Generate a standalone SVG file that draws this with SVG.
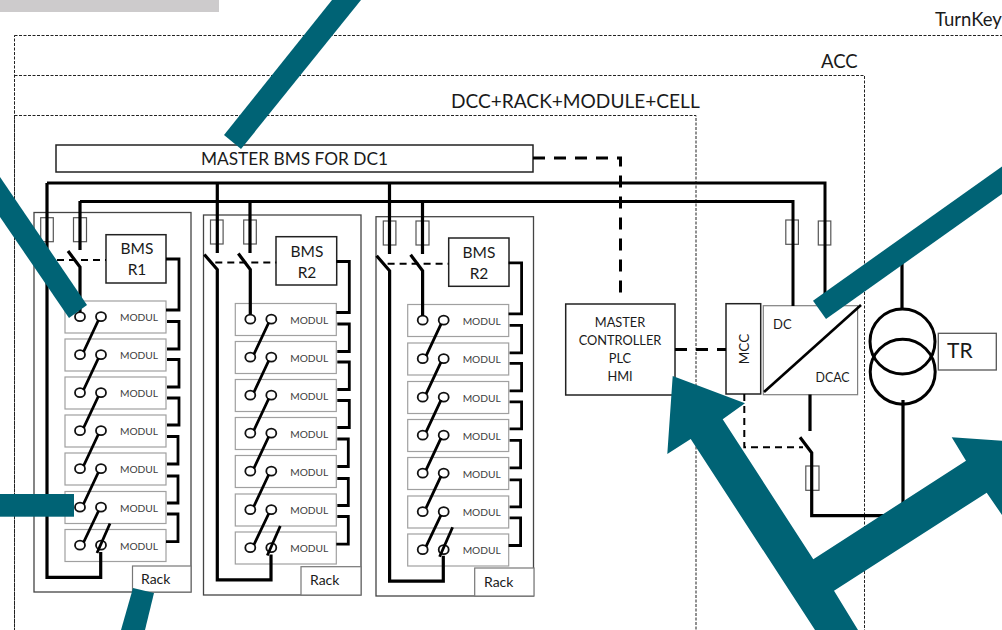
<svg xmlns="http://www.w3.org/2000/svg" width="1002" height="630" viewBox="0 0 1002 630">
<style>
text{font-family:Lato,"Open Sans","Liberation Sans",sans-serif;fill:#1a1a1a}
.frame{fill:none;stroke:#222;stroke-width:1;stroke-dasharray:3 1.500}
.box{fill:#fff;stroke:#222;stroke-width:1.500}
.rack{fill:#fff;stroke:#444;stroke-width:1.300}
.lab{fill:#fff;stroke:#777;stroke-width:1.200}
.mod{fill:#fff;stroke:#a0a0a0;stroke-width:1.200}
.pin{fill:#fff;stroke:#111;stroke-width:1.800}
.fuse{fill:none;stroke:#555;stroke-width:1.200}
.wire{fill:none;stroke:#000;stroke-width:3.200}
.bus{fill:none;stroke:#000;stroke-width:3}
.link{fill:none;stroke:#000;stroke-width:2.800}
.dash{fill:none;stroke:#000;stroke-width:2;stroke-dasharray:7 5}
.dash2{fill:none;stroke:#000;stroke-width:3;stroke-dasharray:12 9}
.m{font-size:10.200px;text-anchor:middle;fill:#404040}
.t16{font-size:15.500px;text-anchor:middle}
.teal{fill:#006375}
</style>
<defs>
<g id="mb"><rect class="mod" x="0" y="0" width="101" height="32"/><ellipse class="pin" cx="15" cy="15.700" rx="5" ry="4.500"/><ellipse class="pin" cx="36" cy="15.700" rx="5" ry="4.500"/></g>
<g id="chain">
<path class="link" d="M83.500 352L98.500 320M83.500 390L98.500 358M83.500 428L98.500 396M83.500 466L98.500 434M83.500 504L98.500 472M83.500 542.500L98.500 511M110 523.500L97 553"/>
<path class="wire" d="M100.700 552V577.300H47V267L34 252M68 251L80 267V312"/>
<path class="link" d="M166 259H179V310H166M167 321.500H179V349H167M167 359.500H179V387H167M167 398H179V425H167M167 436.500H178V464H167M167 476H178V503H167M167 514H178V541.700H166"/>
<path class="dash" d="M45 260H106"/>
</g>
</defs>

<rect width="219" height="12" fill="#cdcbcc"/>
<g id="frames">
<rect class="frame" x="14.500" y="35.500" width="1010" height="640"/>
<rect class="frame" x="14.500" y="75.500" width="850" height="600"/>
<rect class="frame" x="14.500" y="115.500" width="681.500" height="560"/>
<text x="935" y="26" font-size="18.500">TurnKey</text>
<text x="821" y="68" font-size="18.500">ACC</text>
<text x="451" y="108" font-size="19.100">DCC+RACK+MODULE+CELL</text>
</g>

<g id="master-bms"><rect class="box" x="56" y="145" width="477" height="27"/><text x="294.500" y="165" font-size="17.300" text-anchor="middle">MASTER BMS FOR DC1</text></g>

<g id="rack1">
<rect class="rack" x="34" y="212.500" width="157" height="379.500"/>
<rect class="lab" x="132.500" y="566" width="58.500" height="26"/><text x="141" y="584" font-size="14">Rack</text>
<rect class="fuse" x="40.700" y="217.700" width="12.600" height="24"/><rect class="fuse" x="73.500" y="217.700" width="13" height="24"/>
<g id="bms1"><rect class="box" x="106" y="234.700" width="60" height="48.300"/><text class="t16" x="137" y="254">BMS</text><text class="t16" x="137" y="275">R1</text></g>
<g id="r1m1" transform="translate(65,301)"><use href="#mb"/><text class="m" x="74" y="20">MODUL</text></g>
<g id="r1m2" transform="translate(65,339)"><use href="#mb"/><text class="m" x="74" y="20">MODUL</text></g>
<g id="r1m3" transform="translate(65,377)"><use href="#mb"/><text class="m" x="74" y="20">MODUL</text></g>
<g id="r1m4" transform="translate(65,415)"><use href="#mb"/><text class="m" x="74" y="20">MODUL</text></g>
<g id="r1m5" transform="translate(65,453)"><use href="#mb"/><text class="m" x="74" y="20">MODUL</text></g>
<g id="r1m6" transform="translate(65,491.500)"><use href="#mb"/><text class="m" x="74" y="20">MODUL</text></g>
<g id="r1m7" transform="translate(65,529.500)"><use href="#mb"/><text class="m" x="74" y="20">MODUL</text></g>
</g>

<g id="rack2">
<rect class="rack" x="203.500" y="215" width="157.500" height="380"/>
<rect class="lab" x="301" y="566.700" width="60" height="28.300"/><text x="310" y="585" font-size="14">Rack</text>
<rect class="fuse" x="210.500" y="220" width="12.600" height="24"/><rect class="fuse" x="243.700" y="220" width="12.600" height="24"/>
<g id="bms2"><rect class="box" x="276" y="236.700" width="60.700" height="48.300"/><text class="t16" x="307" y="256.500">BMS</text><text class="t16" x="307" y="278">R2</text></g>
<g id="r2m1" transform="translate(235.300,303.500)"><use href="#mb"/><text class="m" x="74" y="20">MODUL</text></g>
<g id="r2m2" transform="translate(235.300,341.500)"><use href="#mb"/><text class="m" x="74" y="20">MODUL</text></g>
<g id="r2m3" transform="translate(235.300,379.500)"><use href="#mb"/><text class="m" x="74" y="20">MODUL</text></g>
<g id="r2m4" transform="translate(235.300,417.500)"><use href="#mb"/><text class="m" x="74" y="20">MODUL</text></g>
<g id="r2m5" transform="translate(235.300,455.500)"><use href="#mb"/><text class="m" x="74" y="20">MODUL</text></g>
<g id="r2m6" transform="translate(235.300,494)"><use href="#mb"/><text class="m" x="74" y="20">MODUL</text></g>
<g id="r2m7" transform="translate(235.300,532)"><use href="#mb"/><text class="m" x="74" y="20">MODUL</text></g>
</g>

<g id="rack3">
<rect class="rack" x="376" y="216.700" width="157.500" height="379.300"/>
<rect class="lab" x="474.700" y="568" width="59.300" height="28"/><text x="484" y="587" font-size="14">Rack</text>
<rect class="fuse" x="383.300" y="221" width="12.600" height="24"/><rect class="fuse" x="416" y="221" width="13" height="24"/>
<g id="bms3"><rect class="box" x="448.700" y="238" width="60.300" height="48.300"/><text class="t16" x="479" y="257.500">BMS</text><text class="t16" x="479" y="279">R2</text></g>
<g id="r3m1" transform="translate(407.700,304.500)"><use href="#mb"/><text class="m" x="74" y="20">MODUL</text></g>
<g id="r3m2" transform="translate(407.700,343)"><use href="#mb"/><text class="m" x="74" y="20">MODUL</text></g>
<g id="r3m3" transform="translate(407.700,381.500)"><use href="#mb"/><text class="m" x="74" y="20">MODUL</text></g>
<g id="r3m4" transform="translate(407.700,419.500)"><use href="#mb"/><text class="m" x="74" y="20">MODUL</text></g>
<g id="r3m5" transform="translate(407.700,457.500)"><use href="#mb"/><text class="m" x="74" y="20">MODUL</text></g>
<g id="r3m6" transform="translate(407.700,496)"><use href="#mb"/><text class="m" x="74" y="20">MODUL</text></g>
<g id="r3m7" transform="translate(407.700,534)"><use href="#mb"/><text class="m" x="74" y="20">MODUL</text></g>
</g>

<g id="master-controller"><rect class="box" x="565.700" y="304" width="109.300" height="91"/>
<g font-size="12.800" text-anchor="middle"><text x="620" y="327">MASTER</text><text x="620" y="345">CONTROLLER</text><text x="620" y="363">PLC</text><text x="620" y="381">HMI</text></g></g>
<g id="mcc"><rect class="box" x="726" y="303.700" width="34.700" height="90.300"/><text x="0" y="0" font-size="13.500" text-anchor="middle" transform="translate(749,349) rotate(-90)">MCC</text></g>
<g id="dcac"><rect x="763.300" y="305.700" width="94.300" height="89" fill="#fff" stroke="#808080" stroke-width="1.200"/><text x="773" y="329" font-size="13">DC</text><text x="815.500" y="382" font-size="12.400">DCAC</text></g>
<g id="transformer"><circle cx="902.700" cy="371.700" r="32.500" fill="none" stroke="#000" stroke-width="3"/><circle cx="902.500" cy="341.500" r="32.500" fill="none" stroke="#000" stroke-width="3"/></g>
<g id="tr"><rect x="938.300" y="333.300" width="58" height="36.700" fill="#fff" stroke="#555" stroke-width="1.300"/><text x="947" y="358" font-size="21">TR</text></g>
<g id="fuses">
<rect class="fuse" x="785.800" y="220" width="12.600" height="24.300"/><rect class="fuse" x="818.300" y="221" width="12.500" height="24"/><rect class="fuse" x="805.800" y="466" width="13.200" height="24.300"/>
</g>

<g id="connectors">
<path class="bus" d="M47 183H825V305M80 201.500H793V306"/>
<path class="wire" d="M47 183V250M80 201V250M217.300 184V253M250 202V253M389.500 184V254M422.500 202V254"/>
<use href="#chain"/>
<use href="#chain" transform="translate(170.300,2.500)"/>
<use href="#chain" transform="translate(342.600,3.800)"/>
<path class="dash2" d="M533 158H620.500V298M675 349.500H726"/>
<path d="M764 392L861 305" fill="none" stroke="#000" stroke-width="2.600"/>
<path class="dash" d="M744.300 394V447.300H803"/>
<path class="wire" d="M810 394.600V431M800 437.300L811.700 452.700V515.700H903V400M902 250V309"/>
</g>

<g id="callouts">
<polygon class="teal" points="332,0 361,0 241,149 224,135"/>
<polygon class="teal" points="0,177 87,305 69,318 0,217"/>
<rect class="teal" x="0" y="494" width="74" height="22.700"/>
<polygon class="teal" points="133,588 154,593 145,630 121,630"/>
<polygon class="teal" points="813,300.700 1002,166.500 1002,194 826,319"/>
<polygon class="teal" points="672.700,376 745,403.300 722.700,419.300 813.300,559.300 966,460.700 951.700,437.300 1002,440.700 1002,515 986.700,492.700 834,590.700 858,630 815,630 690.700,439 667.300,454"/>
</g>
</svg>
